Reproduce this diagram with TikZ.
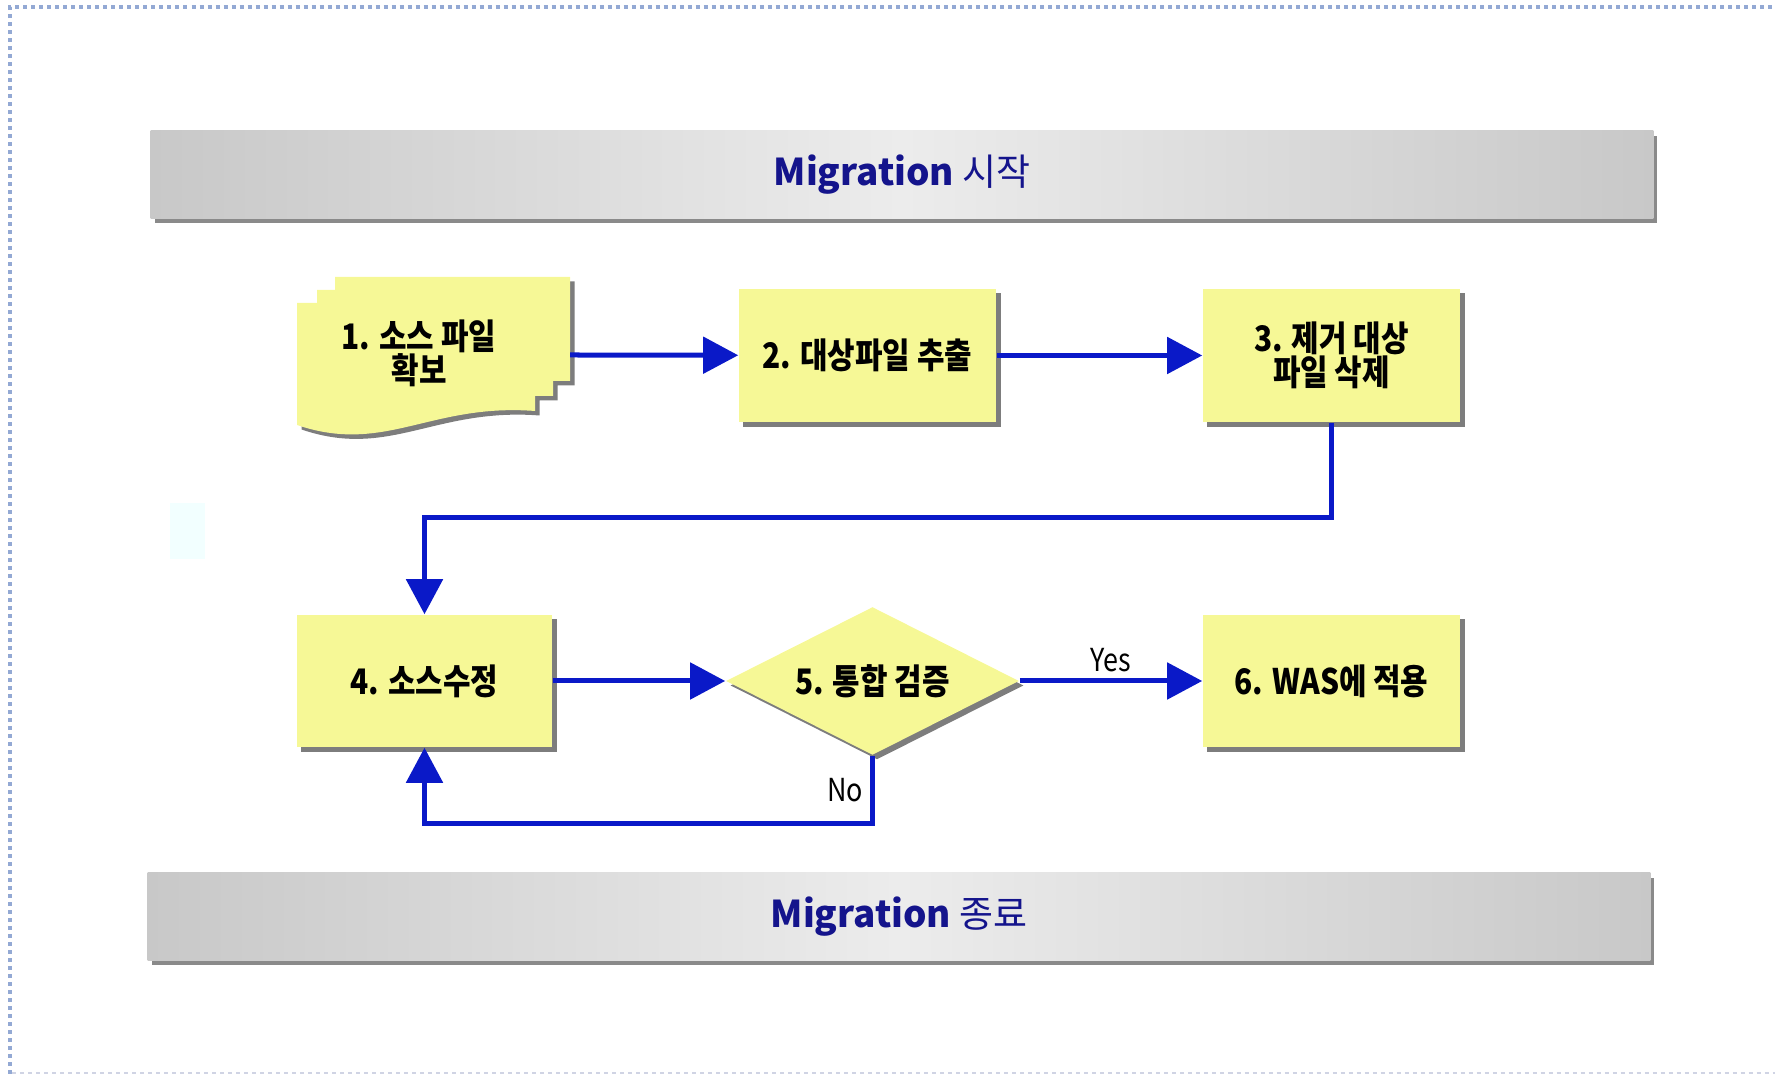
\documentclass[tikz,border=0pt]{standalone}
\usepackage{fontspec}
\usetikzlibrary{arrows.meta,shapes.geometric,shadows}

% Korean fonts for the boxes and the bars
\newfontfamily\krfont[FakeStretch=0.85]{Noto Sans CJK KR}
\newfontfamily\barfont{Noto Sans CJK KR}

\definecolor{boxyellow}{RGB}{246,248,150}
\definecolor{flowblue}{RGB}{10,25,200}
\definecolor{barnavy}{RGB}{20,20,140}
\definecolor{shadowgray}{RGB}{125,125,125}
\definecolor{bargray}{RGB}{200,200,200}
\definecolor{barlight}{RGB}{236,236,236}
\definecolor{framedot}{RGB}{147,169,212}
\definecolor{framedash}{RGB}{208,212,228}
\definecolor{ghost}{RGB}{242,255,255}

\tikzset{
  shade box/.style={drop shadow={shadow xshift=0.045cm,shadow yshift=-0.045cm,fill=shadowgray,opacity=1}},
  steptext/.style={align=center, font=\krfont\bfseries\fontsize{10}{9.7}\selectfont},
  stepbox/.style={rectangle, fill=boxyellow, shade box, minimum width=2.57cm, minimum height=1.33cm, steptext},
  decision/.style={diamond, fill=boxyellow, shade box, minimum width=2.93cm, minimum height=1.48cm, inner sep=0pt},
  bar/.style={rectangle, left color=bargray, right color=bargray, middle color=barlight,
    drop shadow={shadow xshift=0.04cm,shadow yshift=-0.05cm,fill=shadowgray!90,opacity=1},
    minimum width=15.02cm, minimum height=0.87cm, text=barnavy, font=\barfont\fontsize{10.5}{13}\selectfont},
  flow/.style={draw=flowblue, line width=0.05cm, -{Triangle[length=0.35cm,width=0.36cm]}},
  answer/.style={font=\krfont\fontsize{9}{10}\selectfont, inner sep=2pt}
}

\begin{document}
\begin{tikzpicture}[x=0.01cm,y=-0.01cm]

    % Page size and the frame of dots round it
    \useasboundingbox (0,0) rectangle (1775,1074);
    \draw[framedot, line width=0.04cm, dash pattern=on 0.04cm off 0.04cm] (10,1074) -- (10,7) -- (1775,7);
    \draw[framedash, line width=0.015cm, dash pattern=on 0.04cm off 0.04cm] (12,1073) -- (1775,1073);
    \fill[ghost] (170,503) rectangle (205,559);

    % Start and end bars
    \node[bar] (start) at (902,174.5) {\textbf{Migration} 시작};
    \node[bar] (finish) at (899,916.5) {\textbf{Migration} 종료};

    % Step 1 is a stack of pages with a wavy bottom
    \path[fill=boxyellow, shade box] (297,303) -- (317,303) -- (317,290) -- (335,290) -- (335,277)
        -- (570,277) -- (570,381) -- (553,381) -- (553,396) -- (535,396) -- (535,411)
        .. controls (430,403) and (385,455) .. (297,425) -- cycle;
    \node[steptext] (src) at (419,353) {1. 소스 파일\\확보};
    \coordinate (src-e) at (570,355);

    % Steps 2 and 3 in the first row
    \node[stepbox] (extract) at (867.5,355.5) {2. 대상파일 추출};
    \node[stepbox] (delete) at (1331.5,355.5) {3. 제거 대상\\파일 삭제};

    % Steps 4, 5 and 6 in the second row
    \node[stepbox, minimum width=2.55cm, minimum height=1.32cm] (modify) at (424.5,681) {4. 소스수정};
    \node[decision] (check) at (872.5,681) {};
    \node[steptext] (check-text) at (check.center) {5. 통합 검증};
    \node[stepbox, minimum width=2.57cm, minimum height=1.32cm] (apply) at (1331.5,681) {6. WAS에 적용};

    % Connectors
    \draw[flow] (src-e) -- (extract);
    \draw[flow] (extract) -- (delete);
    \draw[flow] (delete.south) -- ++(0,95) -| (modify.north);
    \draw[flow] (modify) -- (check);
    \draw[flow] (check) -- node[answer, above] {Yes} (apply);
    \draw[flow] (check.south) -- node[answer, left, pos=0.5] {No} ++(0,68) -| (modify.south);

\end{tikzpicture}
\end{document}
